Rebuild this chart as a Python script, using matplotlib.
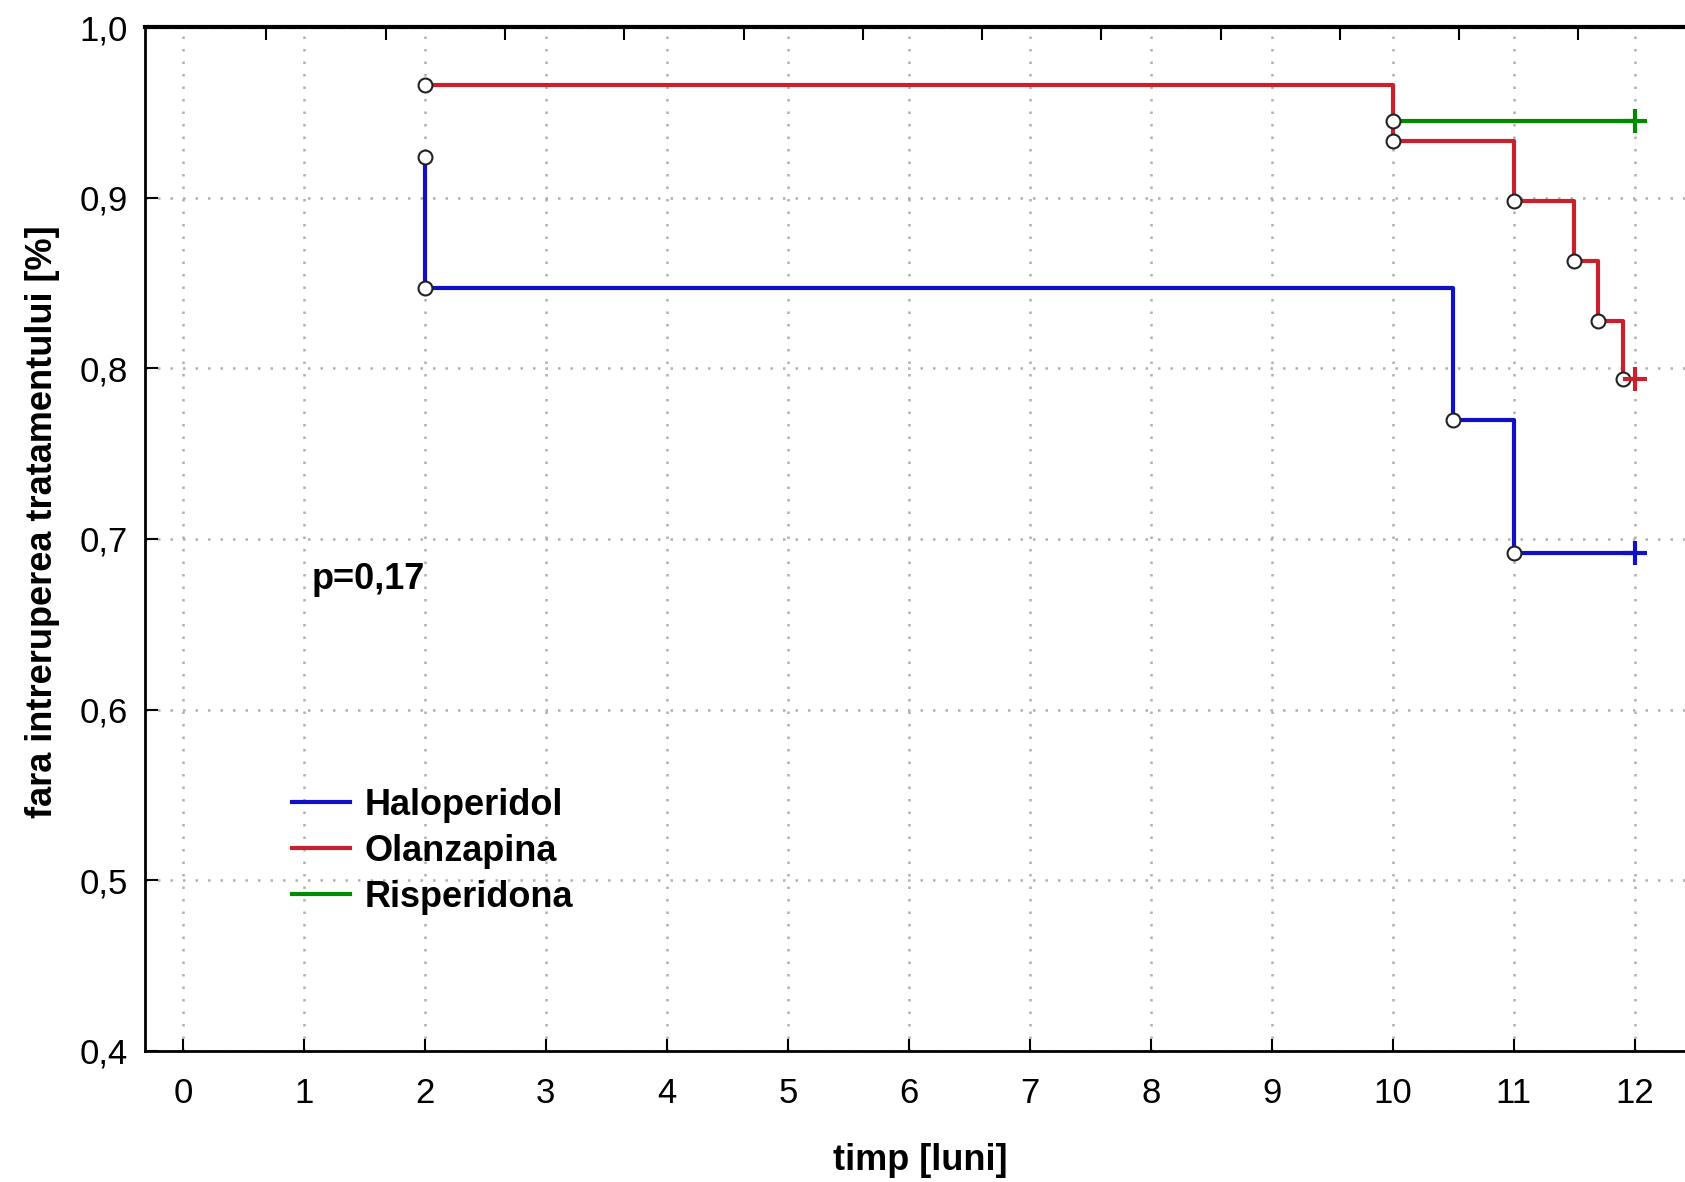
import matplotlib.pyplot as plt
import numpy as np
from matplotlib.lines import Line2D

plt.rcParams['font.family'] = ['Liberation Sans', 'DejaVu Sans']

# timp [luni] si supravietuire (Kaplan-Meier)
halo_t = [2, 2, 10.5, 11, 12]
halo_s = [0.924, 0.847, 0.770, 0.692, 0.692]

olan_t = [2, 10, 11, 11.5, 11.7, 11.9, 12]
olan_s = [0.966, 0.933, 0.898, 0.863, 0.828, 0.794, 0.794]

risp_t = [10, 12]
risp_s = [0.945, 0.945]

series = [
    ('Haloperidol', halo_t, halo_s, '#1010C8'),
    ('Olanzapina', olan_t, olan_s, '#C8202C'),
    ('Risperidona', risp_t, risp_s, '#008A00'),
]
p_text = 'p=0,17'

fig = plt.figure(figsize=(16.85, 11.82), dpi=100)
ax = fig.add_axes([0.086, 0.111, 0.92, 0.866])

for name, t, s, col in series:
    ax.step(t, s, where='post', color=col, lw=3, zorder=3)
    # evenimente (cercuri) si cenzurare (+) la final
    ax.plot(t[:-1], s[:-1], 'o', ms=10, mfc='white', mec='#222222', mew=1.5, zorder=4)
    ax.plot(t[-1], s[-1], '+', ms=17, mew=3, color=col, zorder=4)

ax.set_xlim(-0.314, 12.5)
ax.set_ylim(0.4, 1.0)
ax.set_xticks(range(0, 13))
ax.set_yticks(np.arange(0.4, 1.01, 0.1))
ax.set_yticklabels([f'{v:.1f}'.replace('.', ',') for v in np.arange(0.4, 1.01, 0.1)])
ax.tick_params(direction='in', length=9, width=1.5, labelsize=25)
ax.tick_params(axis='x', pad=19)
ax.tick_params(axis='y', pad=12)
ax.grid(True, linestyle=(0, (1, 4)), color='#b0b0b0', lw=1.8)
for sp in ax.spines.values():
    sp.set_linewidth(2)

# liniuta de sus (axa secundara)
sec = ax.secondary_xaxis('top')
sec.set_xticks(0.69 + 0.986 * np.arange(12))
sec.set_xticklabels([])
sec.tick_params(direction='in', length=9, width=1.5)
sec.spines['top'].set_linewidth(3)

ax.set_xlabel('timp [luni]', fontsize=26, fontweight='bold')
ax.set_ylabel('fara intreruperea tratamentului [%]', fontsize=26, fontweight='bold')
ax.xaxis.set_label_coords(0.5, -0.09)
ax.yaxis.set_label_coords(-0.055, 0.517)

ax.text(1.066, 0.676, p_text, fontsize=26, fontweight='bold', va='center', ha='left')

handles = [Line2D([], [], color=c, lw=3) for _, _, _, c in series]
ax.legend(handles, [n for n, _, _, _ in series], loc='center left',
          bbox_to_anchor=(0.095, 0.195), frameon=False, borderpad=0, borderaxespad=0,
          handlelength=1.6, handletextpad=0.4, labelspacing=0.3,
          prop={'size': 26, 'weight': 'bold'})

plt.savefig('out.png', dpi=100)
